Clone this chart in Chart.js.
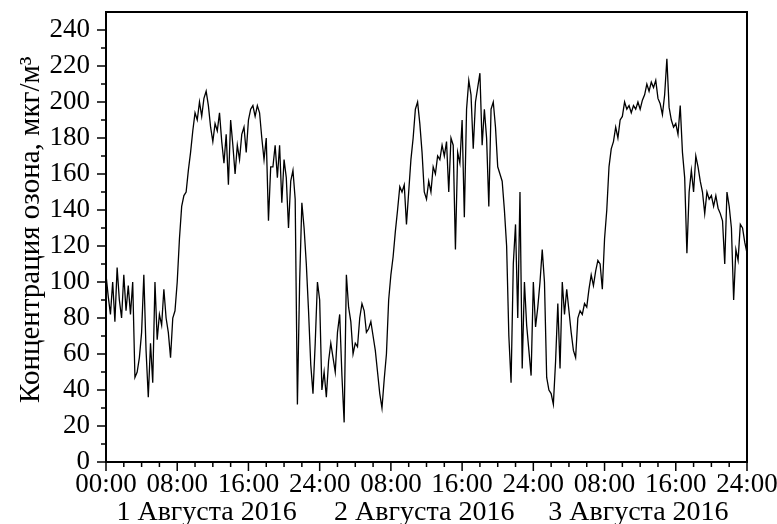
<!DOCTYPE html>
<html>
<head>
<meta charset="utf-8">
<script src="https://cdn.jsdelivr.net/npm/chart.js@4.4.0/dist/chart.umd.min.js"></script>
<style>
  html, body { margin: 0; padding: 0; background: #fff; }
</style>
</head>
<body>
<canvas id="myChart" width="777" height="524"></canvas>
<script>
// ozone concentration, 15 min steps, hours counted from 00:00 of 1 Aug
const day1 = [
  104, 92, 82, 100, 78, 108, 90, 80, 104, 84, 98, 82,
  100, 47, 50, 58, 72, 104, 62, 36, 66, 44, 100, 68,
  82, 76, 96, 80, 72, 58, 80, 84, 100, 124, 142, 148,
  150, 162, 172, 184, 194, 190, 200, 192, 202, 206, 198, 186,
  178, 188, 184, 194, 178, 166, 182, 154, 190, 176, 160, 176,
  168, 182, 186, 172, 190, 196, 198, 192, 198, 194, 180, 168,
  180, 134, 164, 164, 176, 158, 176, 144, 168, 158, 130, 156,
  162, 146, 32, 100, 144, 130, 110, 84, 54, 38, 66, 100
];
const day2 = [
  90, 40, 50, 36, 56, 66, 58, 50, 72, 82, 48, 22,
  104, 86, 78, 60, 66, 64, 80, 88, 84, 72, 74, 78,
  70, 62, 50, 38, 30, 46, 60, 90, 104, 114, 128, 140,
  153, 150, 154, 132, 150, 168, 180, 196, 200, 188, 172, 150,
  146, 156, 150, 164, 160, 170, 168, 176, 170, 178, 150, 180,
  176, 118, 172, 166, 190, 136, 196, 212, 204, 174, 200, 208,
  216, 176, 196, 180, 142, 196, 200, 186, 164, 160, 156, 140,
  120, 70, 44, 110, 132, 80, 150, 52, 100, 76, 62, 48
];
const day3 = [
  100, 75, 86, 100, 118, 100, 47, 40, 38, 32, 56, 88,
  52, 100, 82, 96, 84, 72, 62, 58, 80, 84, 82, 88,
  86, 96, 104, 98, 106, 112, 110, 96, 124, 140, 164, 174,
  178, 186, 180, 190, 192, 200, 196, 198, 194, 198, 196, 200,
  196, 201, 204, 210, 206, 211, 208, 212, 202, 199, 193, 204,
  224, 197, 190, 186, 188, 182, 198, 172, 158, 116, 150, 162,
  150, 170, 164, 156, 150, 138, 150, 146, 148, 142, 148, 141,
  138, 134, 110, 150, 142, 130, 90, 118, 112, 132, 130, 122,
  116
];
const stepHours = 0.25;

const xTickLabels = ['00:00', '08:00', '16:00', '24:00', '08:00', '16:00', '24:00', '08:00', '16:00', '24:00'];
const dateLabels = ['1 Августа 2016', '2 Августа 2016', '3 Августа 2016'];
const dateCenters = [11.3, 35.75, 59.8];
const yTitle = '\u2002Концентрация озона, мкг/м³';

const values = day1.concat(day2, day3);
const points = values.map((v, i) => ({ x: i * stepHours, y: v }));

const serif = 'Liberation Serif, "Times New Roman", serif';

// frame around plot + outward ticks of two lengths
const frameTicks = {
  id: 'frameTicks',
  afterDraw(chart) {
    const { ctx, chartArea: a, scales } = chart;
    ctx.save();
    ctx.strokeStyle = '#000';
    ctx.lineWidth = 2;
    ctx.strokeRect(a.left, a.top, a.right - a.left, a.bottom - a.top);
    ctx.lineWidth = 1.5;
    ctx.beginPath();
    scales.x.ticks.forEach(t => {
      const px = scales.x.getPixelForValue(t.value);
      const len = t.value % 8 === 0 ? 9 : 5;
      ctx.moveTo(px, a.bottom);
      ctx.lineTo(px, a.bottom + len);
    });
    scales.y.ticks.forEach(t => {
      if (t.value > 240) return;
      const py = scales.y.getPixelForValue(t.value);
      const len = t.value % 20 === 0 ? 9 : 5;
      ctx.moveTo(a.left, py);
      ctx.lineTo(a.left - len, py);
    });
    ctx.stroke();
    ctx.restore();
  }
};

function fixSize(w, h) {
  return scale => {
    if (w !== null) scale.width = w;
    if (h !== null) scale.height = h;
    scale.paddingTop = 0;
    scale.paddingBottom = 0;
    scale.paddingLeft = 0;
    scale.paddingRight = 0;
  };
}

const ctx = document.getElementById('myChart').getContext('2d');
new Chart(ctx, {
  type: 'line',
  data: {
    datasets: [{
      data: points,
      borderColor: '#000',
      borderWidth: 1.3,
      pointRadius: 0,
      tension: 0,
      fill: false
    }]
  },
  options: {
    responsive: false,
    animation: false,
    devicePixelRatio: 1,
    layout: { padding: { top: 12, right: 30, bottom: 0, left: 0 } },
    plugins: { legend: { display: false }, tooltip: { enabled: false } },
    scales: {
      x: {
        type: 'linear',
        min: 0,
        max: 72,
        weight: 0,
        afterBuildTicks: scale => {
          const t = [];
          for (let h = 0; h <= 72; h += 2) t.push({ value: h });
          scale.ticks = t;
        },
        afterFit: fixSize(null, 30),
        grid: { display: false, drawTicks: false },
        border: { display: false },
        ticks: {
          autoSkip: false,
          maxRotation: 0,
          padding: 7,
          color: '#000',
          font: { family: serif, size: 27 },
          callback: v => (v % 8 === 0 ? xTickLabels[v / 8] : '')
        }
      },
      x2: {
        type: 'linear',
        axis: 'x',
        position: 'bottom',
        min: 0,
        max: 72,
        weight: 1,
        afterBuildTicks: scale => {
          scale.ticks = dateCenters.map(v => ({ value: v }));
        },
        afterFit: fixSize(null, 32),
        grid: { display: false, drawTicks: false },
        border: { display: false },
        ticks: {
          autoSkip: false,
          maxRotation: 0,
          padding: 4,
          color: '#000',
          font: { family: serif, size: 28 },
          callback: v => dateLabels[dateCenters.indexOf(v)]
        }
      },
      y: {
        min: 0,
        max: 250,
        afterFit: fixSize(106, null),
        grid: { display: false, drawTicks: false },
        border: { display: false },
        ticks: {
          stepSize: 10,
          autoSkip: false,
          padding: 16,
          color: '#000',
          font: { family: serif, size: 27 },
          callback: v => (v % 20 === 0 && v <= 240 ? String(v) : '')
        },
        title: {
          display: true,
          text: yTitle,
          color: '#000',
          font: { family: serif, size: 29 },
          padding: { top: 14, bottom: 0 }
        }
      }
    }
  },
  plugins: [frameTicks]
});
</script>
</body>
</html>
